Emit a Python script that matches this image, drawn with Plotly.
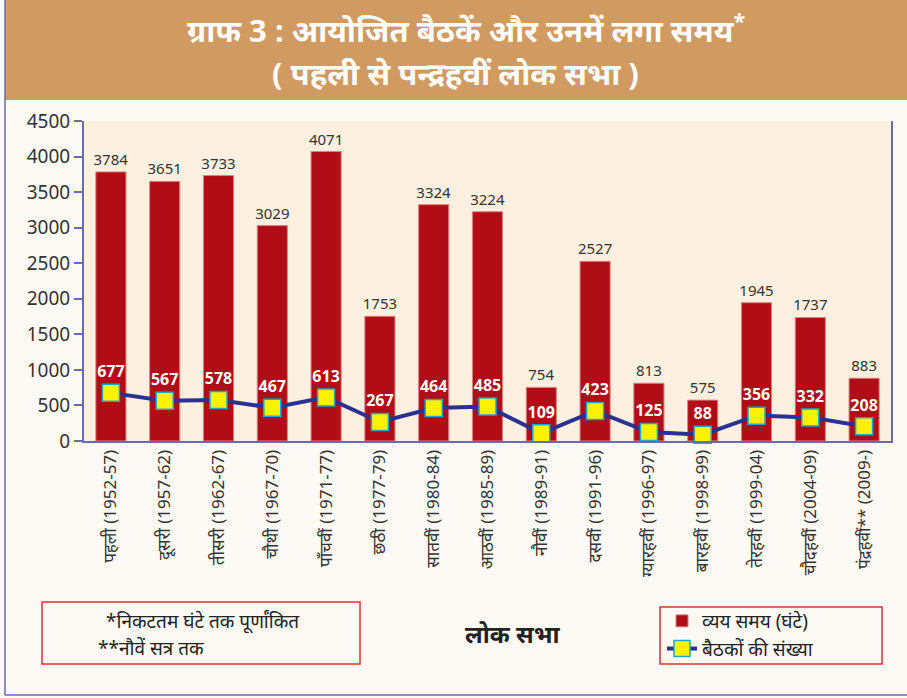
import plotly.graph_objects as go

categories = ["पहली (1952-57)", "दूसरी (1957-62)", "तीसरी (1962-67)", "चौथी (1967-70)",
              "पाँचवीं (1971-77)", "छठी (1977-79)", "सातवीं (1980-84)", "आठवीं (1985-89)",
              "नौवीं (1989-91)", "दसवीं (1991-96)", "ग्यारहवीं (1996-97)", "बारहवीं (1998-99)",
              "तेरहवीं (1999-04)", "चौदहवीं (2004-09)", "पंद्रहवीं** (2009-)"]
hours = [3784, 3651, 3733, 3029, 4071, 1753, 3324, 3224, 754, 2527, 813, 575, 1945, 1737, 883]
sittings = [677, 567, 578, 467, 613, 267, 464, 485, 109, 423, 125, 88, 356, 332, 208]
yticks = [0, 500, 1000, 1500, 2000, 2500, 3000, 3500, 4000, 4500]

W, H = 907, 698
L, R, T, B = 84, 891, 121, 441

def px(x):
    return (x - L) / (R - L)

def py(y):
    return (B - y) / (B - T)

FONT = "Noto Sans, DejaVu Sans, sans-serif"

fig = go.Figure()
fig.add_trace(go.Bar(
    x=categories, y=hours, name="व्यय समय (घंटे)",
    marker=dict(color="#B00D16", line=dict(color="#E08080", width=1)),
    width=0.56,
    text=[str(v) for v in hours], textposition="outside", constraintext="none",
    textfont=dict(size=15, color="#333333", family=FONT),
    cliponaxis=False,
))
fig.add_trace(go.Scatter(
    x=categories, y=sittings, name="बैठकों की संख्या", mode="lines+markers+text",
    line=dict(color="#2B3190", width=4),
    marker=dict(symbol="square", size=17, color="#FFF200", line=dict(color="#1AA7D0", width=1.5)),
    text=[str(v) for v in sittings], textposition="top center",
    textfont=dict(size=16, color="white", family=FONT, weight="bold"),
    cliponaxis=False,
))

shapes = [
    dict(type="rect", xref="paper", yref="paper", x0=px(5), x1=px(907), y0=py(100), y1=py(0),
         fillcolor="#D09A60", line=dict(width=0), layer="below"),
    dict(type="line", xref="paper", yref="paper", x0=px(5), x1=px(5), y0=py(0), y1=py(695),
         line=dict(color="#6A6AB0", width=1.5)),
    dict(type="line", xref="paper", yref="paper", x0=px(5), x1=px(907), y0=py(695), y1=py(695),
         line=dict(color="#6A6AB0", width=1.5)),
    dict(type="rect", xref="paper", yref="paper", x0=px(42), x1=px(360), y0=py(664), y1=py(602),
         line=dict(color="#E03030", width=1.5)),
    dict(type="rect", xref="paper", yref="paper", x0=px(660), x1=px(882), y0=py(664), y1=py(607),
         line=dict(color="#E03030", width=1.5)),
]

annotations = [
    dict(text="<b>ग्राफ 3 : आयोजित बैठकें और उनमें लगा समय<sup>*</sup></b>", x=px(466), y=py(29),
         xref="paper", yref="paper", xanchor="center", yanchor="middle", showarrow=False,
         font=dict(size=31, color="white", family=FONT)),
    dict(text="<b>( पहली से पन्द्रहवीं लोक सभा )</b>", x=px(455), y=py(73),
         xref="paper", yref="paper", xanchor="center", yanchor="middle", showarrow=False,
         font=dict(size=31, color="white", family=FONT)),
    dict(text="*निकटतम घंटे तक पूर्णांकित", x=px(104), y=py(621), xanchor="left", yanchor="middle",
         xref="paper", yref="paper", showarrow=False, font=dict(size=19, color="#222222", family=FONT)),
    dict(text="**नौवें सत्र तक", x=px(96), y=py(648), xanchor="left", yanchor="middle",
         xref="paper", yref="paper", showarrow=False, font=dict(size=19, color="#222222", family=FONT)),
    dict(text="<b>लोक सभा</b>", x=px(512), y=py(633), xanchor="center", yanchor="middle",
         xref="paper", yref="paper", showarrow=False, font=dict(size=24, color="#222222", family=FONT)),
]

fig.update_layout(
    width=W, height=H,
    margin=dict(l=L, r=W - R, t=T, b=H - B),
    paper_bgcolor="#FDFAF5", plot_bgcolor="#FDF0E0",
    font=dict(family=FONT, color="#333333"),
    shapes=shapes, annotations=annotations,
    showlegend=True,
    legend=dict(x=px(662), y=py(602), xanchor="left", yanchor="top", xref="paper", yref="paper",
                borderwidth=0, bgcolor="rgba(0,0,0,0)",
                font=dict(size=19, color="#222222", family=FONT), itemwidth=30,
                tracegroupgap=0),
    bargap=0.44,
)
fig.update_xaxes(tickangle=-90, tickfont=dict(size=17, color="#333333"), showline=True,
                 linecolor="#6A6AB0", linewidth=2, showgrid=False, ticks="",
                 range=[-0.5, 14.5])
fig.update_yaxes(range=[0, 4500], tickvals=yticks, tickfont=dict(size=19, color="#333333"),
                 showline=True, linecolor="#6A6AB0", linewidth=2, mirror=True, showgrid=False,
                 ticks="outside", ticklen=8, tickcolor="#6A6AB0", tickwidth=2, zeroline=False)

fig.write_html("out.html", post_script="document.body.style.margin='0';",
               config={"displayModeBar": False})
